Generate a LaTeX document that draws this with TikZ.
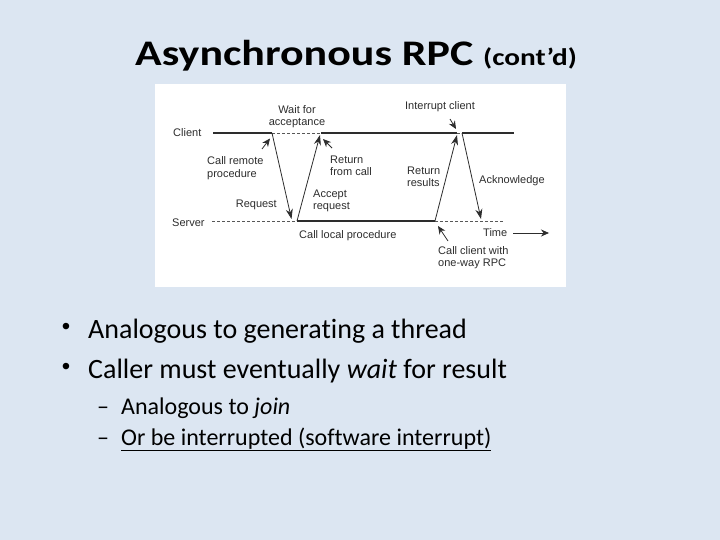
\documentclass[tikz,border=0pt]{standalone}
\usepackage{fontspec}
\setmainfont{Carlito}[Ligatures=NoCommon]
\newfontfamily\arial{Liberation Sans}
\usetikzlibrary{arrows.meta}
\definecolor{bg}{RGB}{220,230,242}
\definecolor{ink}{RGB}{45,45,45}
\tikzset{
  lbl/.style={font=\arial\fontsize{11}{12.5}\selectfont, text=ink, inner sep=0pt, align=left},
  thickline/.style={line width=2.4pt, draw=ink},
  dashline/.style={dash pattern=on 3pt off 2pt, line width=0.6pt, draw=ink!80},
  msg/.style={line width=0.8pt, draw=ink, -{Stealth[length=10pt,width=7pt]}},
  ptr/.style={line width=0.8pt, draw=ink, -{Stealth[length=8pt,width=7pt]}},
  bigtext/.style={font=\fontsize{28}{32}\selectfont, inner sep=0pt, anchor=base west},
  subtext/.style={font=\fontsize{24}{28}\selectfont, inner sep=0pt, anchor=base west},
  bulletmark/.style={font=\arial\fontsize{24}{28}\selectfont, inner sep=0pt, anchor=center},
}
\begin{document}
\begin{tikzpicture}[x=1pt,y=-1pt]
\fill[bg] (0,0) rectangle (720,540);
\useasboundingbox (0,0) rectangle (720,540);
\fill[white] (155,84) rectangle (566,287);

% title
\node[inner sep=0pt, anchor=base west] (title) at (135,66)
  {\scalebox{1.22}[1]{\bfseries\fontsize{36}{40}\selectfont Asynchronous RPC {\fontsize{24}{28}\selectfont (cont’d)}}};

% time lines
\coordinate (c0) at (213,133); \coordinate (c1) at (272,133);
\coordinate (c2) at (321,133); \coordinate (c3) at (457,133);
\coordinate (c4) at (462,133); \coordinate (c5) at (514,133);
\coordinate (s0) at (212,221); \coordinate (s1) at (297,221);
\coordinate (s2) at (435,221); \coordinate (s3) at (503,221);
\draw[thickline] (c0) -- (c1);
\draw[dashline] (c1) -- (c2);
\draw[thickline] (c2) -- (c3);
\draw[dashline] (c3) -- (c4);
\draw[thickline] (c4) -- (c5);
\draw[dashline] (s0) -- (s1);
\draw[thickline] (s1) -- (s2);
\draw[dashline] (s2) -- (s3);

% messages
\coordinate (m1) at (291.5,219); \coordinate (m2) at (320,135);
\coordinate (m3) at (457,135); \coordinate (m4) at (481,219);
\draw[msg] (c1) -- (m1);
\draw[msg] (s1) -- (m2);
\draw[msg] (s2) -- (m3);
\draw[msg] (c4) -- (m4);

% pointers
\coordinate (p1a) at (262,149); \coordinate (p1b) at (270,138.5);
\coordinate (p2a) at (332,148); \coordinate (p2b) at (323,139);
\coordinate (p3a) at (450,119); \coordinate (p3b) at (456,129);
\coordinate (p4a) at (448,241); \coordinate (p4b) at (438,226);
\coordinate (ta) at (513,233); \coordinate (tb) at (549,233);
\draw[ptr] (p1a) -- (p1b);
\draw[ptr] (p2a) -- (p2b);
\draw[ptr] (p3a) -- (p3b);
\draw[ptr] (p4a) -- (p4b);
\draw[ptr] (ta) -- (tb);

% labels
\node[lbl, anchor=base west] (client) at (173,137) {Client};
\node[lbl, anchor=base west] (server) at (172,226) {Server};
\node[lbl, align=center] (wait) at (297,116.5) {Wait for\\acceptance};
\node[lbl] (intr) at (440,107) {Interrupt client};
\node[lbl, anchor=west] (callrem) at (207,168) {Call remote\\procedure};
\node[lbl, anchor=west] (retcall) at (330,166) {Return\\from call};
\node[lbl, anchor=east] (req) at (277,205) {Request};
\node[lbl, anchor=west] (acc) at (313,201) {Accept\\request};
\node[lbl, anchor=west] (retres) at (407,177) {Return\\results};
\node[lbl, anchor=west] (ack) at (479,181) {Acknowledge};
\node[lbl, anchor=west] (local) at (299,236) {Call local procedure};
\node[lbl, anchor=west] (time) at (483,233) {Time};
\node[lbl, anchor=west] (oneway) at (438,257.5) {Call client with\\one-way RPC};

% bullets
\node[bulletmark] (b1m) at (66,329) {•};
\node[bigtext] (b1) at (88,338) {Analogous to generating a thread};
\node[bulletmark] (b2m) at (66,369) {•};
\node[bigtext] (b2) at (88,378) {Caller must eventually \emph{wait} for result};
\node[subtext] (s1m) at (97,414) {–};
\node[subtext] (s1t) at (121,414) {Analogous to \emph{join}};
\node[subtext] (s2m) at (97,445) {–};
\node[subtext] (s2t) at (121,445) {\underline{Or be interrupted (software interrupt)}};
\end{tikzpicture}
\end{document}
